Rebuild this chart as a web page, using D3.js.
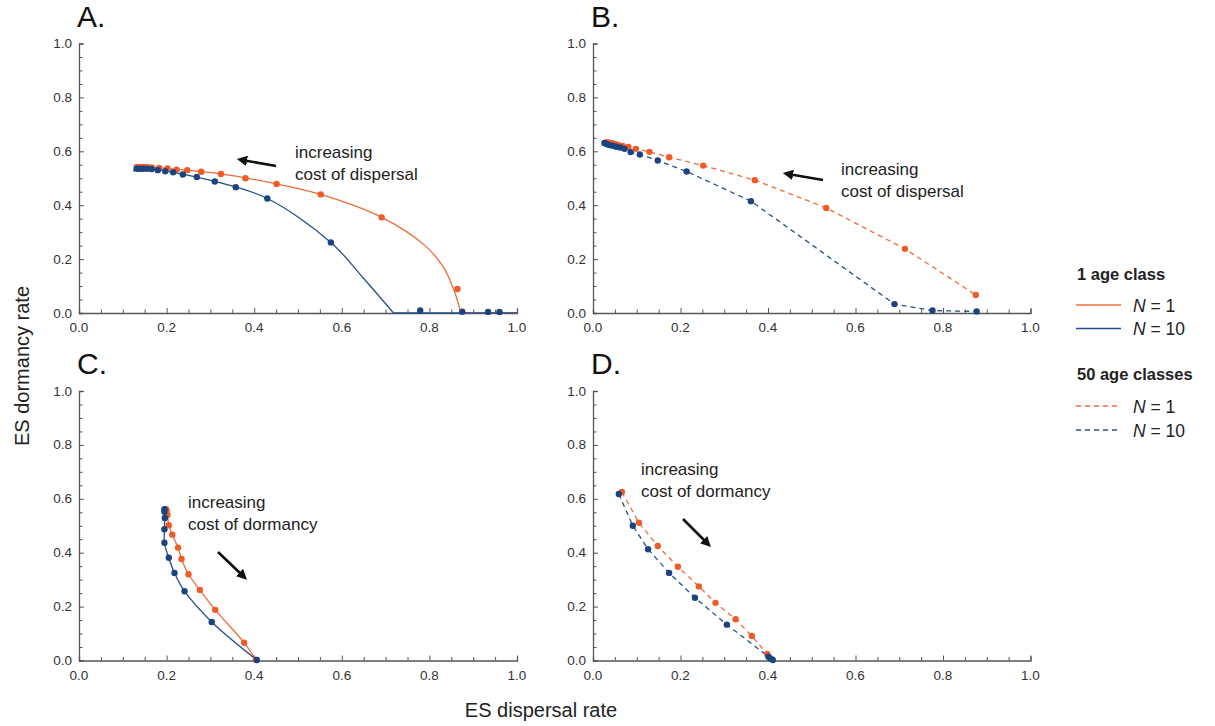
<!DOCTYPE html>
<html><head><meta charset="utf-8">
<script src="https://cdn.jsdelivr.net/npm/d3@7"></script>
<style>
body{margin:0;background:#fff}
svg{display:block}
text{font-family:"Liberation Sans",Arial,Helvetica,sans-serif}
</style>
</head><body>
<svg id="chart" width="1215" height="726"></svg>
<script>
// ---------------- DATA ----------------
const tickValues = [0,0.05,0.1,0.15,0.2,0.25,0.3,0.35,0.4,0.45,0.5,0.55,0.6,0.65,0.7,0.75,0.8,0.85,0.9,0.95,1.0];
const tickLabels = ["0.0","0.2","0.4","0.6","0.8","1.0"];
const panelLetters = ["A.","B.","C.","D."];
const seriesNames = ["N = 1","N = 10"];
const legendGroups = ["1 age class","50 age classes"];

// Panel A (1 age class, increasing cost of dispersal)
const A_N1 = [[0.132,0.542],[0.139,0.542],[0.147,0.542],[0.156,0.541],[0.166,0.540],[0.183,0.538],[0.202,0.536],[0.223,0.532],[0.247,0.530],[0.279,0.524],[0.324,0.516],[0.380,0.500],[0.451,0.479],[0.552,0.440],[0.691,0.355],[0.864,0.089]];
const A_N1_fit = [[0.124,0.528],[0.132,0.542],[0.166,0.541],[0.223,0.533],[0.324,0.516],[0.451,0.479],[0.552,0.440],[0.691,0.355],[0.79,0.25],[0.832,0.17],[0.856,0.085],[0.872,0.0]];
const A_N1_zero = [[0.872,0.0],[1.0,0.0]];
const A_N10 = [[0.132,0.535],[0.139,0.535],[0.147,0.535],[0.156,0.535],[0.166,0.534],[0.180,0.530],[0.197,0.526],[0.215,0.522],[0.237,0.514],[0.269,0.505],[0.310,0.488],[0.358,0.467],[0.430,0.425],[0.575,0.262],[0.779,0.009],[0.875,0.005],[0.934,0.004],[0.960,0.004]];
const A_N10_fit = [[0.124,0.526],[0.132,0.535],[0.166,0.534],[0.215,0.522],[0.310,0.488],[0.430,0.425],[0.575,0.262],[0.650,0.128],[0.718,0.0]];
const A_N10_zero = [[0.718,0.0],[1.0,0.0]];

// Panel B (50 age classes, increasing cost of dispersal)
const B_N1 = [[0.031,0.634],[0.037,0.632],[0.044,0.630],[0.050,0.627],[0.058,0.624],[0.068,0.620],[0.081,0.616],[0.098,0.609],[0.129,0.598],[0.174,0.578],[0.252,0.547],[0.370,0.493],[0.533,0.390],[0.713,0.238],[0.875,0.067]];
const B_N10 = [[0.026,0.631],[0.031,0.627],[0.037,0.623],[0.045,0.621],[0.053,0.617],[0.062,0.614],[0.072,0.609],[0.086,0.597],[0.107,0.588],[0.148,0.566],[0.214,0.525],[0.361,0.415],[0.689,0.033],[0.776,0.009],[0.877,0.006]];

// Panel C (1 age class, increasing cost of dormancy)
const C_N1 = [[0.199,0.561],[0.200,0.554],[0.202,0.540],[0.205,0.502],[0.213,0.467],[0.226,0.419],[0.234,0.377],[0.250,0.320],[0.276,0.262],[0.311,0.188],[0.377,0.066],[0.404,0.002]];
const C_N10 = [[0.195,0.561],[0.195,0.552],[0.196,0.529],[0.195,0.487],[0.195,0.437],[0.205,0.381],[0.218,0.325],[0.241,0.257],[0.303,0.143],[0.406,0.002]];

// Panel D (50 age classes, increasing cost of dormancy)
const D_N1 = [[0.066,0.625],[0.105,0.511],[0.148,0.425],[0.194,0.348],[0.242,0.275],[0.280,0.214],[0.326,0.153],[0.363,0.091],[0.398,0.024],[0.406,0.008]];
const D_N10 = [[0.059,0.618],[0.091,0.500],[0.126,0.413],[0.174,0.325],[0.233,0.233],[0.306,0.133],[0.401,0.014],[0.406,0.007],[0.411,0.002]];

// ---------------- STYLE ----------------
const ORANGE = "#f26a3b", ORANGE_PT = "#ef5b27";
const BLUE = "#244f8c", BLUE_PT = "#1b447f";
const AXIS = "#555";
const svg = d3.select("#chart");
const smooth = d3.curveCatmullRom.alpha(0.5);

const panels = [
  {letter:panelLetters[0], x0:79, x1:517, yb:313, yt:43.5,
   lines:[{d:A_N1_fit,c:ORANGE,dash:null,curve:smooth},{d:A_N1_zero,c:ORANGE,dash:null,curve:d3.curveLinear},
          {d:A_N10_fit,c:BLUE,dash:null,curve:smooth},{d:A_N10_zero,c:BLUE,dash:null,curve:d3.curveLinear}],
   pts:[{d:A_N1,c:ORANGE_PT},{d:A_N10,c:BLUE_PT}],
   ann:{t1:"increasing",t2:"cost of dispersal",tx:295,ty:158,ax1:276,ay1:166,ax2:245,ay2:160.5}},
  {letter:panelLetters[1], x0:593, x1:1030.5, yb:313, yt:43.5,
   lines:[{d:B_N1,c:ORANGE,dash:"5,4",curve:d3.curveLinear},{d:B_N10,c:BLUE,dash:"5,4",curve:d3.curveLinear}],
   pts:[{d:B_N1,c:ORANGE_PT},{d:B_N10,c:BLUE_PT}],
   ann:{t1:"increasing",t2:"cost of dispersal",tx:841,ty:175,ax1:823,ay1:180,ax2:791,ay2:174.5}},
  {letter:panelLetters[2], x0:79, x1:517, yb:660.5, yt:391,
   lines:[{d:C_N1,c:ORANGE,dash:null,curve:smooth},{d:C_N10,c:BLUE,dash:null,curve:smooth}],
   pts:[{d:C_N1,c:ORANGE_PT},{d:C_N10,c:BLUE_PT}],
   ann:{t1:"increasing",t2:"cost of dormancy",tx:188,ty:508,ax1:218,ay1:552,ax2:241,ay2:574}},
  {letter:panelLetters[3], x0:593, x1:1030.5, yb:660.5, yt:391,
   lines:[{d:D_N1,c:ORANGE,dash:"5,4",curve:d3.curveLinear},{d:D_N10,c:BLUE,dash:"5,4",curve:d3.curveLinear}],
   pts:[{d:D_N1,c:ORANGE_PT},{d:D_N10,c:BLUE_PT}],
   ann:{t1:"increasing",t2:"cost of dormancy",tx:641,ty:475,ax1:683,ay1:519,ax2:705,ay2:541}}
];

// arrow marker
svg.append("defs").append("marker")
  .attr("id","ah").attr("viewBox","0 0 10 10").attr("refX",2).attr("refY",5)
  .attr("markerWidth",4).attr("markerHeight",4).attr("orient","auto")
  .append("path").attr("d","M0,0 L10,5 L0,10 z").attr("fill","#111");

panels.forEach(p => {
  const x = d3.scaleLinear().domain([0,1]).range([p.x0,p.x1]);
  const y = d3.scaleLinear().domain([0,1]).range([p.yb,p.yt]);
  const g = svg.append("g");

  // axes
  const xa = g.append("g").attr("transform",`translate(0,${p.yb})`)
    .call(d3.axisBottom(x).tickValues(tickValues).tickSize(-4).tickFormat(""));
  const ya = g.append("g").attr("transform",`translate(${p.x0},0)`)
    .call(d3.axisLeft(y).tickValues(tickValues).tickSize(-4).tickFormat(""));
  [xa,ya].forEach(a => {
    a.select(".domain").attr("stroke",AXIS).attr("stroke-width",1.3);
    a.selectAll(".tick line").attr("stroke",AXIS).attr("stroke-width",1);
  });
  xa.selectAll(".tick line").attr("y2", d => (Math.round(d*100)%20===0) ? -5 : -3.5);
  ya.selectAll(".tick line").attr("x2", d => (Math.round(d*100)%20===0) ? 5 : 3.5);

  tickLabels.forEach(l => {
    const v = +l;
    g.append("text").attr("x",x(v)).attr("y",p.yb+19).attr("text-anchor","middle")
      .attr("font-size",13.5).attr("fill","#333").text(l);
    g.append("text").attr("x",p.x0-7).attr("y",y(v)+4.5).attr("text-anchor","end")
      .attr("font-size",13.5).attr("fill","#333").text(l);
  });

  // panel letter
  g.append("text").attr("x",p.x0-2).attr("y",p.yt-17).attr("font-size",30)
    .attr("fill","#111").text(p.letter);

  // lines
  p.lines.forEach(s => {
    g.append("path").datum(s.d)
      .attr("d", d3.line().x(d=>x(d[0])).y(d=>y(d[1])).curve(s.curve))
      .attr("fill","none").attr("stroke",s.c).attr("stroke-width",1.3)
      .attr("stroke-dasharray",s.dash);
  });
  // points
  p.pts.forEach(s => {
    g.selectAll(null).data(s.d).enter().append("circle")
      .attr("cx",d=>x(d[0])).attr("cy",d=>y(d[1])).attr("r",3.2)
      .attr("fill",s.c);
  });

  // annotation
  const a = p.ann;
  g.append("text").attr("x",a.tx).attr("y",a.ty).attr("font-size",17).attr("fill","#222").text(a.t1);
  g.append("text").attr("x",a.tx).attr("y",a.ty+22).attr("font-size",17).attr("fill","#222").text(a.t2);
  g.append("line").attr("x1",a.ax1).attr("y1",a.ay1).attr("x2",a.ax2).attr("y2",a.ay2)
    .attr("stroke","#111").attr("stroke-width",2.6).attr("marker-end","url(#ah)");
});

// axis titles
svg.append("text").attr("x",541).attr("y",717).attr("text-anchor","middle")
  .attr("font-size",20).attr("fill","#222").text("ES dispersal rate");
svg.append("text").attr("transform","translate(29,366) rotate(-90)").attr("text-anchor","middle")
  .attr("font-size",20).attr("fill","#222").text("ES dormancy rate");

// legend
const lg = svg.append("g");
const legendItems = [
  {head:legendGroups[0], hy:280, rows:[{n:seriesNames[0],c:ORANGE,dash:null,y:305},{n:seriesNames[1],c:BLUE,dash:null,y:328.5}]},
  {head:legendGroups[1], hy:380, rows:[{n:seriesNames[0],c:ORANGE,dash:"5,4",y:406},{n:seriesNames[1],c:BLUE,dash:"5,4",y:430}]}
];
legendItems.forEach(gp => {
  lg.append("text").attr("x",1077).attr("y",gp.hy).attr("font-size",16.5).attr("font-weight","bold")
    .attr("fill","#222").text(gp.head);
  gp.rows.forEach(r => {
    lg.append("line").attr("x1",1076).attr("x2",1121).attr("y1",r.y).attr("y2",r.y)
      .attr("stroke",r.c).attr("stroke-width",1.4).attr("stroke-dasharray",r.dash);
    const t = lg.append("text").attr("x",1133).attr("y",r.y+6.5).attr("font-size",17.5).attr("fill","#222");
    const parts = r.n.split(" ");
    t.append("tspan").attr("font-style","italic").text(parts[0]);
    t.append("tspan").text(" " + parts.slice(1).join(" "));
  });
});
</script>
</body></html>
